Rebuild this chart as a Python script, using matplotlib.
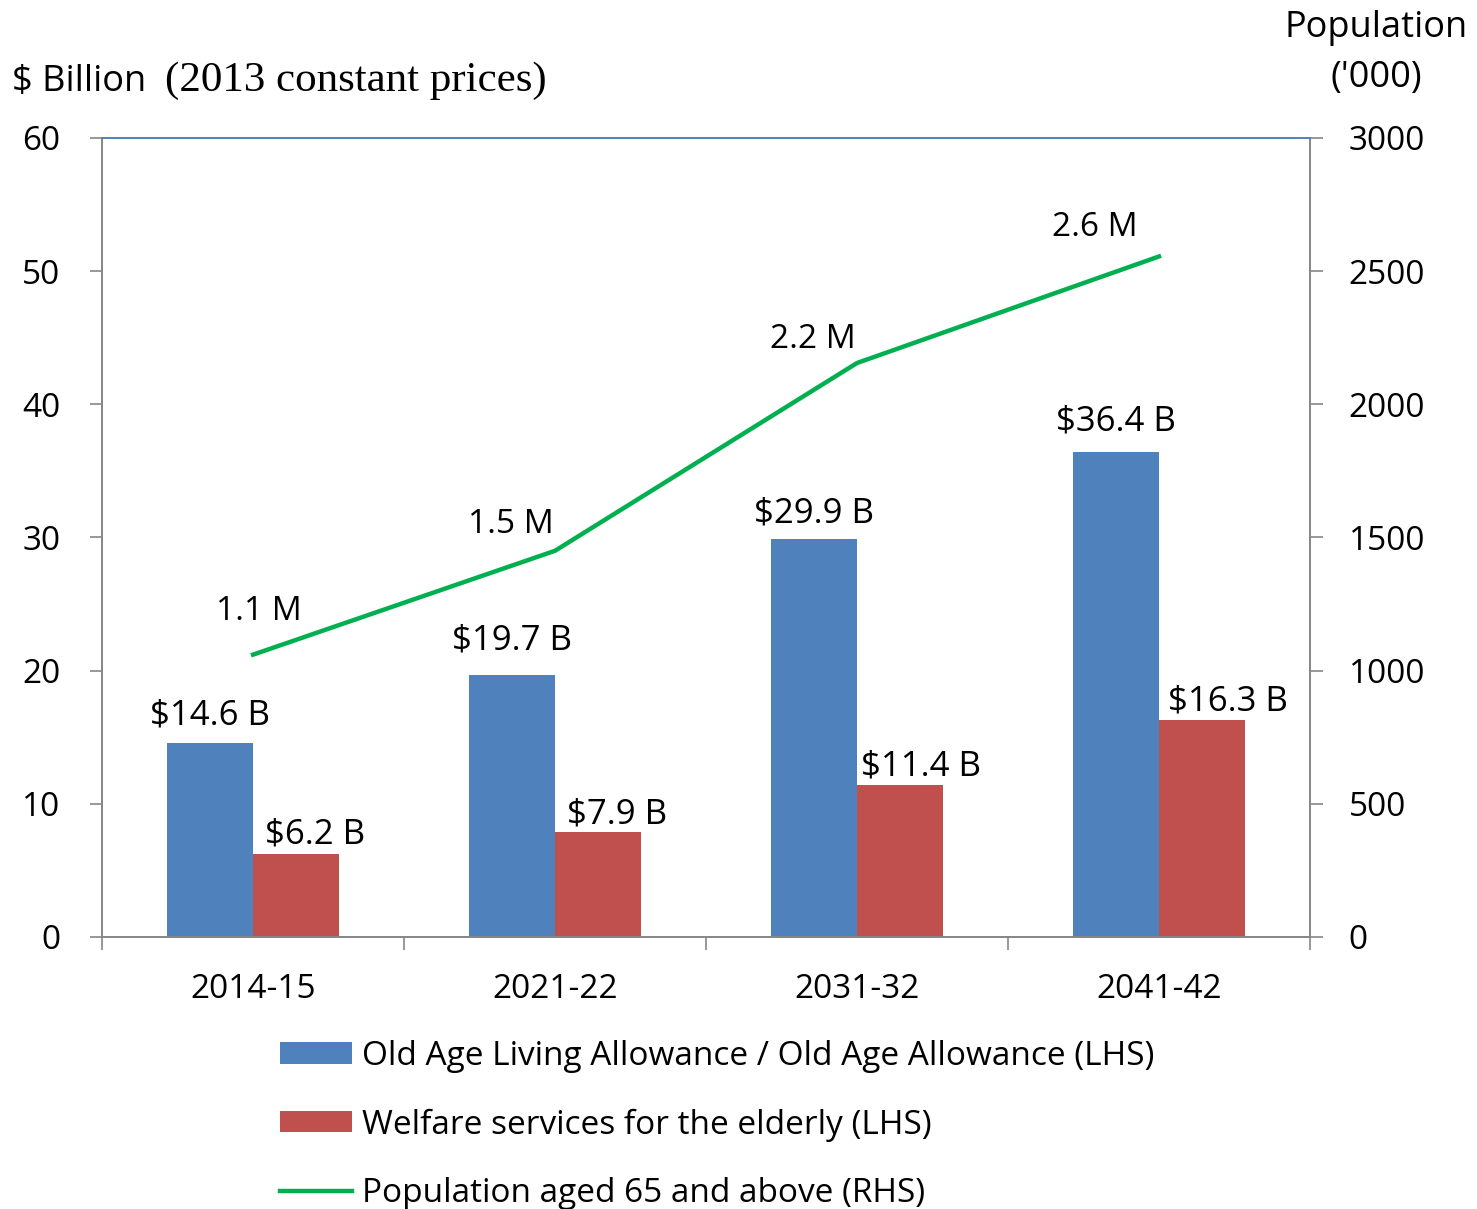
import numpy as np
import matplotlib.pyplot as plt

# data
years = ['2014-15', '2021-22', '2031-32', '2041-42']
allowance = [14.6, 19.7, 29.9, 36.4]        # $ billion, LHS
welfare = [6.2, 7.9, 11.4, 16.3]            # $ billion, LHS
population = [1060, 1450, 2155, 2555]       # '000, RHS
pop_labels = ['1.1 M', '1.5 M', '2.2 M', '2.6 M']

blue = '#4F81BD'
red = '#C0504D'
green = '#00B050'
grey = '#868686'
sans = 'Open Sans'

plt.rcParams['font.family'] = [sans, 'DejaVu Sans']

fig = plt.figure(figsize=(14.77, 12.09), dpi=100)
ax = fig.add_axes([0.0691, 0.225, 0.8178, 0.6609])
ax2 = ax.twinx()

x = np.arange(len(years))
w = 0.285
b1 = ax.bar(x - w / 2, allowance, w, color=blue, zorder=2,
            label='Old Age Living Allowance / Old Age Allowance (LHS)')
b2 = ax.bar(x + w / 2, welfare, w, color=red, zorder=2,
            label='Welfare services for the elderly (LHS)')
ln, = ax2.plot(x, population, color=green, lw=3.2,
               label='Population aged 65 and above (RHS)')

# label nudges (points), as in the original
blue_dy = [7, 12, 6, 10]
for xi, v, dy in zip(x, allowance, blue_dy):
    ax.annotate(f'${v} B', (xi - w / 2, v), xytext=(0, dy), textcoords='offset points',
                ha='center', va='bottom', fontsize=25)
red_off = [(14, 2), (14, 0), (15, 1), (19, 1)]
for xi, v, off in zip(x, welfare, red_off):
    ax.annotate(f'${v} B', (xi + w / 2, v), xytext=off, textcoords='offset points',
                ha='center', va='bottom', fontsize=25)
pop_off = [(4, 19), (-32, 7), (-32, 5), (-46, 9)]
for xi, v, lab, off in zip(x, population, pop_labels, pop_off):
    ax2.annotate(lab, (xi, v), xytext=off, textcoords='offset points',
                 ha='center', va='bottom', fontsize=24)

ax.set_xlim(-0.5, 3.5)
ax.set_ylim(0, 60)
ax2.set_ylim(0, 3000)
ax.set_yticks(range(0, 61, 10))
ax2.set_yticks(range(0, 3001, 500))
ax.set_xticks(x)
ax.set_xticklabels(years)
ax.set_xticks(np.arange(-0.5, 4, 1), minor=True)
ax.tick_params(axis='x', which='major', length=0, pad=26, labelsize=24)
ax.tick_params(axis='x', which='minor', length=9, width=1.2, color=grey, direction='out')
ax.tick_params(axis='y', length=9, width=1.2, color=grey, labelsize=24, pad=21)
ax2.tick_params(axis='y', length=9, width=1.2, color=grey, labelsize=24, pad=19)

for a in (ax, ax2):
    a.spines['top'].set_color(blue)
    a.spines['top'].set_linewidth(1.2)
    for s in ('left', 'right', 'bottom'):
        a.spines[s].set_color(grey)
        a.spines[s].set_linewidth(1.2)

fig.text(0.008, 0.925, '$ Billion', fontsize=26, ha='left', va='baseline')
fig.text(0.112, 0.925, '(2013 constant prices)', fontsize=31, ha='left', va='baseline',
         family='Liberation Serif')
fig.text(0.932, 0.969, 'Population', fontsize=26, ha='center', va='baseline')
fig.text(0.932, 0.928, "('000)", fontsize=26, ha='center', va='baseline')

fig.legend(handles=[b1, b2, ln], loc='upper left', bbox_to_anchor=(0.1896, 0.140),
           frameon=False, fontsize=24, handlelength=2.16, handleheight=0.6,
           handletextpad=0.3, labelspacing=1.07, borderaxespad=0, borderpad=0)

fig.savefig('out.png', dpi=100)
